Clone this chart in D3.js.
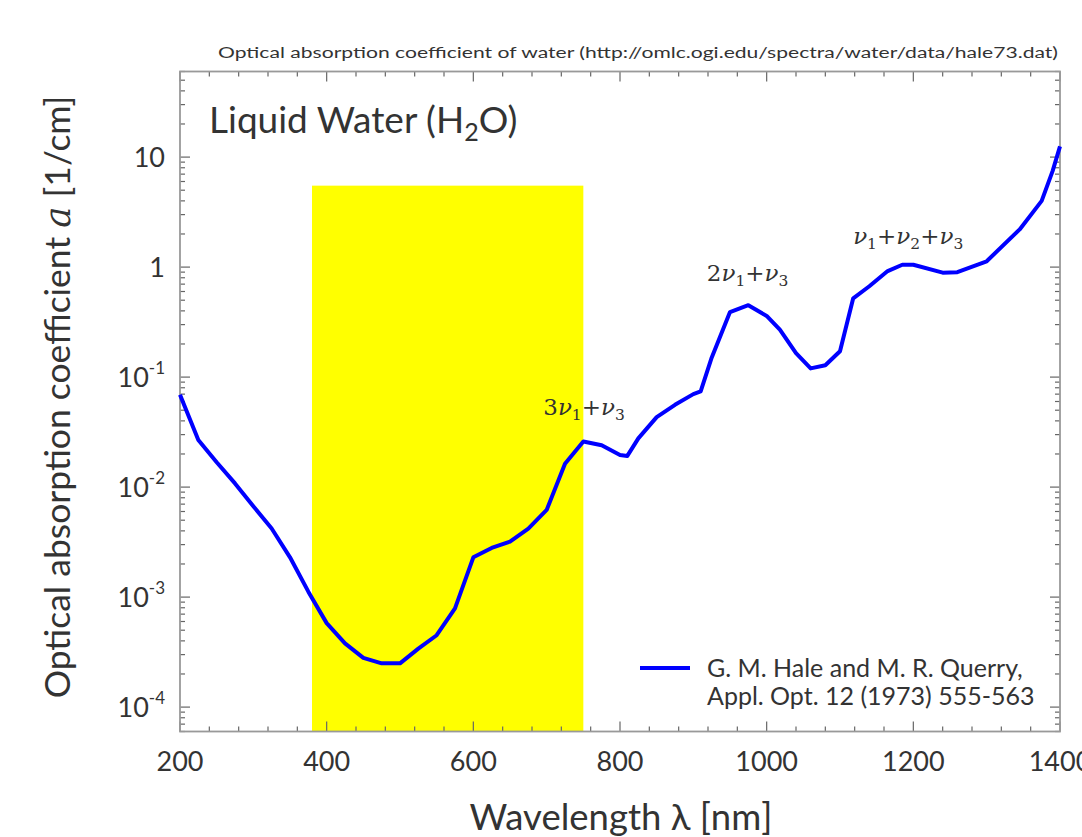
<!DOCTYPE html>
<html>
<head>
<meta charset="utf-8">
<style>
  body { margin: 0; background: white; }
  svg { display: block; font-family: Lato, "Open Sans", sans-serif; }
</style>
</head>
<body>
<svg width="1082" height="837"></svg>
<script src="https://d3js.org/d3.v7.min.js"></script>
<script>
// wavelength [nm] and absorption coefficient [1/cm]
const wavelengths = [200, 225, 250, 275, 300, 325, 350, 375, 400, 425, 450, 475, 500, 525, 550, 575,
  600, 625, 650, 675, 700, 725, 750, 775, 800, 810, 825, 850, 875, 900, 910, 925, 950, 975,
  1000, 1018, 1040, 1060, 1080, 1100, 1118, 1140, 1165, 1185, 1200, 1240, 1260, 1300, 1345, 1375, 1390, 1400];
const absorption = [0.0691, 0.0268, 0.0168, 0.0108, 0.0067, 0.0042, 0.0023, 0.00112, 0.00058, 0.00038, 0.00028, 0.00025, 0.00025, 0.00034, 0.00045, 0.00079,
  0.0023, 0.0028, 0.0032, 0.0042, 0.0062, 0.0163, 0.026, 0.024, 0.0196, 0.0192, 0.0277, 0.0433, 0.056, 0.07, 0.074, 0.15, 0.39, 0.45,
  0.36, 0.27, 0.165, 0.12, 0.128, 0.172, 0.52, 0.67, 0.92, 1.05, 1.05, 0.89, 0.9, 1.13, 2.2, 4.0, 7.5, 12.5];

const xTicks = [200, 400, 600, 800, 1000, 1200, 1400];
const yTicks = [1e-4, 1e-3, 1e-2, 1e-1, 1, 10];
const yTickLabels = [["10", "-4"], ["10", "-3"], ["10", "-2"], ["10", "-1"], ["1", ""], ["10", ""]];

// visible band
const visibleBand = [380, 750];
const visibleTop = 5.5;

// vibrational overtone labels: [position nm, value, parts]
const bandLabels = [
  { x: 751, y: 0.045, parts: [["3", 0], ["ν", 1], ["1", 2], ["+", 0], ["ν", 1], ["3", 2]] },
  { x: 974, y: 0.75, parts: [["2", 0], ["ν", 1], ["1", 2], ["+", 0], ["ν", 1], ["3", 2]] },
  { x: 1193, y: 1.63, parts: [["ν", 1], ["1", 2], ["+", 0], ["ν", 1], ["2", 2], ["+", 0], ["ν", 1], ["3", 2]] }
];

const margin = { left: 180, right: 22, top: 71.5, bottom: 105.5 };
const width = 1082, height = 837;

const svg = d3.select("svg");

const x = d3.scaleLinear().domain([200, 1400]).range([margin.left, width - margin.right]);
const y = d3.scaleLog().domain([6e-5, 60]).range([height - margin.bottom, margin.top]);

const tickColor = "#666";
const textColor = "#333";

// top caption
svg.append("text")
  .attr("x", 1058).attr("y", 58)
  .attr("text-anchor", "end")
  .attr("font-size", 15.5)
  .attr("fill", textColor)
  .attr("textLength", 840)
  .attr("lengthAdjust", "spacingAndGlyphs")
  .text("Optical absorption coefficient of water (http://omlc.ogi.edu/spectra/water/data/hale73.dat)");

// yellow visible region
svg.append("rect")
  .attr("x", x(visibleBand[0]))
  .attr("y", y(visibleTop))
  .attr("width", x(visibleBand[1]) - x(visibleBand[0]))
  .attr("height", y.range()[0] - y(visibleTop))
  .attr("fill", "#ffff00");

// ticks, all four sides, pointing inward
const xMinor = d3.range(200, 1401, 40).filter(d => d % 200 !== 0);
const yMinor = [];
for (let e = -5; e <= 1; e++) for (let m = 2; m <= 9; m++) {
  const v = m * Math.pow(10, e);
  if (v >= 6e-5 && v <= 60) yMinor.push(v);
}

const ticks = svg.append("g").attr("stroke", tickColor).attr("stroke-width", 1.2);
const [yb, yt] = y.range();
const [xl, xr] = x.range();

xTicks.forEach(d => {
  ticks.append("line").attr("x1", x(d)).attr("x2", x(d)).attr("y1", yb).attr("y2", yb - 10);
  ticks.append("line").attr("x1", x(d)).attr("x2", x(d)).attr("y1", yt).attr("y2", yt + 10);
});
xMinor.forEach(d => {
  ticks.append("line").attr("x1", x(d)).attr("x2", x(d)).attr("y1", yb).attr("y2", yb - 5);
  ticks.append("line").attr("x1", x(d)).attr("x2", x(d)).attr("y1", yt).attr("y2", yt + 5);
});
yTicks.forEach(d => {
  ticks.append("line").attr("x1", xl).attr("x2", xl + 10).attr("y1", y(d)).attr("y2", y(d));
  ticks.append("line").attr("x1", xr).attr("x2", xr - 10).attr("y1", y(d)).attr("y2", y(d));
});
yMinor.forEach(d => {
  ticks.append("line").attr("x1", xl).attr("x2", xl + 5).attr("y1", y(d)).attr("y2", y(d));
  ticks.append("line").attr("x1", xr).attr("x2", xr - 5).attr("y1", y(d)).attr("y2", y(d));
});

// frame
svg.append("rect")
  .attr("x", xl).attr("y", yt)
  .attr("width", xr - xl).attr("height", yb - yt)
  .attr("fill", "none")
  .attr("stroke", "#999")
  .attr("stroke-width", 1.8);

// x tick labels
svg.append("g").selectAll("text")
  .data(xTicks)
  .join("text")
  .attr("x", d => x(d))
  .attr("y", yb + 39)
  .attr("text-anchor", "middle")
  .attr("font-size", 27)
  .attr("fill", textColor)
  .text(d => d);

// y tick labels with superscript exponents
yTicks.forEach((d, i) => {
  const t = svg.append("text")
    .attr("x", 165)
    .attr("y", y(d) + 10)
    .attr("text-anchor", "end")
    .attr("font-size", 27)
    .attr("fill", textColor);
  t.append("tspan").text(yTickLabels[i][0]);
  if (yTickLabels[i][1]) {
    t.append("tspan").attr("font-size", 17).attr("dy", -13).text(yTickLabels[i][1]);
  }
});

// axis titles
svg.append("text")
  .attr("x", 621).attr("y", 830)
  .attr("text-anchor", "middle")
  .attr("font-size", 36.5)
  .attr("fill", textColor)
  .text("Wavelength λ [nm]");

const yt1 = svg.append("text")
  .attr("transform", "translate(70,397) rotate(-90)")
  .attr("text-anchor", "middle")
  .attr("font-size", 35.5)
  .attr("fill", textColor);
yt1.append("tspan").text("Optical absorption coefficient ");
yt1.append("tspan").attr("font-family", "'DejaVu Serif', serif").attr("font-style", "italic").text("a");
yt1.append("tspan").text(" [1/cm]");

// panel title
const pt = svg.append("text")
  .attr("x", 209).attr("y", 133)
  .attr("font-size", 37)
  .attr("fill", textColor);
pt.append("tspan").text("Liquid Water (H");
pt.append("tspan").attr("font-size", 25).attr("dy", 8).text("2");
pt.append("tspan").attr("dy", -8).text("O)");

// curve
const line = d3.line()
  .x(d => x(d[0]))
  .y(d => y(d[1]));

svg.append("path")
  .datum(wavelengths.map((w, i) => [w, absorption[i]]))
  .attr("d", line)
  .attr("fill", "none")
  .attr("stroke", "#0000ff")
  .attr("stroke-width", 4)
  .attr("stroke-linejoin", "round");

// band labels
bandLabels.forEach(b => {
  const t = svg.append("text")
    .attr("x", x(b.x))
    .attr("y", y(b.y))
    .attr("text-anchor", "middle")
    .attr("font-size", 23)
    .attr("font-family", "'DejaVu Serif', serif")
    .attr("fill", textColor);
  let shift = 0;
  b.parts.forEach(p => {
    const s = t.append("tspan").text(p[0]);
    if (p[1] === 1) s.attr("font-style", "italic");
    const target = p[1] === 2 ? 5 : 0;
    if (target !== shift) { s.attr("dy", target - shift); shift = target; }
    if (p[1] === 2) s.attr("font-size", 15.5);
  });
});

// legend
svg.append("line")
  .attr("x1", 640).attr("x2", 690)
  .attr("y1", 668).attr("y2", 668)
  .attr("stroke", "#0000ff").attr("stroke-width", 4);
svg.append("text")
  .attr("x", 707).attr("y", 677)
  .attr("font-size", 25)
  .attr("fill", textColor)
  .text("G. M. Hale and M. R. Querry,");
svg.append("text")
  .attr("x", 707).attr("y", 705)
  .attr("font-size", 25)
  .attr("fill", textColor)
  .text("Appl. Opt. 12 (1973) 555-563");
</script>
</body>
</html>
